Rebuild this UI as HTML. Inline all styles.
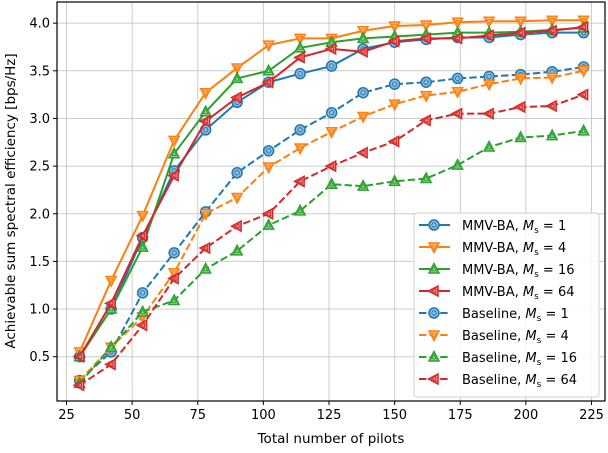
<!DOCTYPE html>
<html><head><meta charset="utf-8"><style>
body{margin:0;background:#fff}
svg{font-family:"DejaVu Sans","Liberation Sans",sans-serif}
</style></head><body>
<svg id="c" width="608" height="448"></svg>
<script>
const pilots=[30,42,54,66,78,90,102,114,126,138,150,162,174,186,198,210,222];
const mmv1=[0.5,1.0,1.75,2.45,2.88,3.17,3.38,3.47,3.55,3.73,3.80,3.83,3.85,3.85,3.88,3.90,3.90];
const mmv4=[0.55,1.3,1.98,2.77,3.27,3.53,3.77,3.84,3.84,3.92,3.97,3.98,4.01,4.02,4.02,4.03,4.03];
const mmv16=[0.5,1.0,1.65,2.63,3.07,3.42,3.50,3.74,3.80,3.84,3.86,3.88,3.90,3.90,3.91,3.93,3.95];
const mmv64=[0.5,1.06,1.77,2.40,2.97,3.22,3.38,3.64,3.73,3.70,3.81,3.84,3.84,3.87,3.90,3.92,3.96];
const base1=[0.25,0.55,1.17,1.59,2.02,2.43,2.66,2.88,3.06,3.27,3.36,3.38,3.42,3.44,3.46,3.49,3.54];
const base4=[0.25,0.6,0.92,1.38,2.0,2.17,2.49,2.69,2.86,3.02,3.15,3.24,3.28,3.36,3.42,3.43,3.50];
const base16=[0.22,0.6,0.97,1.09,1.42,1.61,1.88,2.03,2.31,2.29,2.34,2.37,2.51,2.70,2.80,2.82,2.87];
const base64=[0.2,0.42,0.83,1.32,1.64,1.87,2.00,2.34,2.50,2.64,2.76,2.98,3.05,3.05,3.12,3.13,3.25];
const xTicks=[25,50,75,100,125,150,175,200,225];
const yTicks=[0.5,1.0,1.5,2.0,2.5,3.0,3.5,4.0];
const seriesLabels=["MMV-BA","MMV-BA","MMV-BA","MMV-BA","Baseline","Baseline","Baseline","Baseline"];
const msValues=["1","4","16","64","1","4","16","64"];

const NS="http://www.w3.org/2000/svg";
const svg=document.getElementById('c');
const L=57,R=605,T=2,B=401;
const X=v=>66.5+(v-25)*2.625;
const Y=v=>356.7-(v-0.5)*95.3;
function el(t,a,p){const e=document.createElementNS(NS,t);for(const k in a)e.setAttribute(k,a[k]);(p||svg).appendChild(e);return e;}
const colors=['#1f77b4','#ff7f0e','#2ca02c','#d62728'];
const light=['#8fbbd9','#ffbf86','#95d095','#eb9393'];
xTicks.forEach(t=>{const g=el('line',{x1:X(t),x2:X(t),y1:T,y2:B,stroke:'#cccccc','stroke-width':1});

el('line',{x1:X(t),x2:X(t),y1:B,y2:B+4,stroke:'#000'});
const tx=el('text',{x:X(t),y:B+18,'text-anchor':'middle','font-size':13});tx.textContent=t;
});
yTicks.forEach(t=>{const g=el('line',{x1:L,x2:R,y1:Y(t),y2:Y(t),stroke:'#cccccc','stroke-width':1});

el('line',{x1:L-4,x2:L,y1:Y(t),y2:Y(t),stroke:'#000'});
const tx=el('text',{x:L-7,y:Y(t)+4.5,'text-anchor':'end','font-size':13});tx.textContent=t.toFixed(1);
});
function marker(kind,x,y,c,lc,g){
 const s=5;let e;
 if(kind==0)e=el('circle',{cx:x,cy:y,r:s},g);
 else{let p;
  if(kind==1)p=[[x-s,y-s*0.8],[x+s,y-s*0.8],[x,y+s*1.1]];
  else if(kind==2)p=[[x-s,y+s*0.8],[x+s,y+s*0.8],[x,y-s*1.1]];
  else p=[[x+s*0.8,y-s],[x+s*0.8,y+s],[x-s*1.1,y]];
  e=el('polygon',{points:p.map(q=>q.join(',')).join(' ')},g);}
 e.setAttribute('fill',lc);e.setAttribute('stroke',c);e.setAttribute('stroke-width',1.5);
 const i=e.cloneNode();i.setAttribute('transform',`translate(${x},${y}) scale(0.45) translate(${-x},${-y})`);i.setAttribute('stroke-width',2);g.appendChild(i);
}
const all=[mmv1,mmv4,mmv16,mmv64,base1,base4,base16,base64];
const names=['mmv-ba-ms1','mmv-ba-ms4','mmv-ba-ms16','mmv-ba-ms64','baseline-ms1','baseline-ms4','baseline-ms16','baseline-ms64'];
const order=[4,5,6,7,0,1,2,3];
order.forEach(k=>{const d=all[k];const ci=k%4;const dash=k>=4;
 const g=el('g',{});
 
 el('polyline',{points:d.map((v,i)=>X(pilots[i])+','+Y(v)).join(' '),fill:'none',stroke:colors[ci],'stroke-width':2,'stroke-dasharray':dash?'7.4,3.2':'none'},g);
 d.forEach((v,i)=>marker(ci,X(pilots[i]),Y(v),colors[ci],light[ci],g));
});
el('rect',{x:L,y:T,width:R-L,height:B-T,fill:'none',stroke:'#000','stroke-width':1.2});
const lg=el('g',{});
el('rect',{x:414,y:213,width:185,height:184,rx:3,fill:'rgba(255,255,255,0.85)',stroke:'#d0d0d0'},lg);
for(let k=0;k<8;k++){const y=225+k*22;const ci=k%4;
 const e=el('g',{},lg);
 el('line',{x1:419,x2:450,y1:y,y2:y,stroke:colors[ci],'stroke-width':2,'stroke-dasharray':k>=4?'7.4,3.2':'none'},e);
 marker(ci,434,y,colors[ci],light[ci],e);
 const t=el('text',{x:462,y:y+5,'font-size':13},e);
 t.innerHTML=seriesLabels[k]+', <tspan font-style="italic">M</tspan><tspan font-size="9" dy="3">s</tspan><tspan dy="-3"> = '+msValues[k]+'</tspan>';}
const xl=el('text',{x:331,y:443,'text-anchor':'middle','font-size':13.5});xl.textContent='Total number of pilots';

const yl=el('text',{x:0,y:0,'text-anchor':'middle','font-size':13.5,transform:'translate(15,201) rotate(-90)'});yl.textContent='Achievable sum spectral efficiency [bps/Hz]';

</script>
</body></html>
